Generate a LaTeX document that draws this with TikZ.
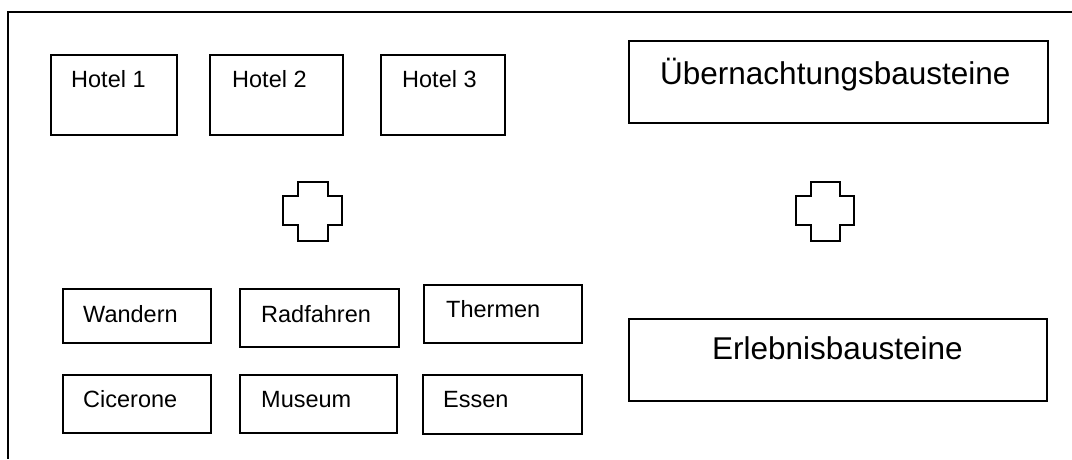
\documentclass[tikz,border=0pt]{standalone}
\usepackage{fontspec}
\setmainfont{Liberation Sans}
\begin{document}
\begin{tikzpicture}[x=1pt,y=-1pt,
  box/.style={draw, line width=1.6pt, inner sep=0pt, anchor=north west},
  small/.style={anchor=base west, inner sep=0pt, font=\fontsize{23.5}{28}\selectfont},
  big/.style={anchor=base west, inner sep=0pt, font=\fontsize{31.5}{38}\selectfont},
  plus/.style={draw, line width=1.6pt, line join=miter}]
\useasboundingbox (0,0) rectangle (1072,459);
% outer frame (top and left)
\draw[line width=1.6pt] (1072,12) -- (8,12) -- (8,459);
% hotels
\node[box, minimum width=126pt, minimum height=80pt] (h1) at (50,54) {};
\node[box, minimum width=133pt, minimum height=80pt] (h2) at (209,54) {};
\node[box, minimum width=124pt, minimum height=80pt] (h3) at (380,54) {};
\node[small] (h1t) at (71,87) {Hotel 1};
\node[small] (h2t) at (232,87) {Hotel 2};
\node[small] (h3t) at (402,87) {Hotel 3};
% overview boxes
\node[box, minimum width=419pt, minimum height=82pt] (ueb) at (628,40) {};
\node[big] (uebt) at (660,84) {Übernachtungsbausteine};
\node[box, minimum width=418pt, minimum height=82pt] (erl) at (628,318) {};
\node[big] (erlt) at (712,359) {Erlebnisbausteine};
% activities
\node[box, minimum width=148pt, minimum height=54pt] (wan) at (62,288) {};
\node[box, minimum width=159pt, minimum height=58pt] (rad) at (239,288) {};
\node[box, minimum width=158pt, minimum height=58pt] (the) at (423,284) {};
\node[box, minimum width=148pt, minimum height=58pt] (cic) at (62,374) {};
\node[box, minimum width=157pt, minimum height=58pt] (mus) at (239,374) {};
\node[box, minimum width=159pt, minimum height=59pt] (ess) at (422,374) {};
\node[small] (want) at (83,322) {Wandern};
\node[small] (radt) at (261,322) {Radfahren};
\node[small] (thet) at (446,317) {Thermen};
\node[small] (cict) at (83,407) {Cicerone};
\node[small] (must) at (261,407) {Museum};
\node[small] (esst) at (443,407) {Essen};
% plus shapes
\draw[plus] (298,182) -- (328,182) -- (328,196) -- (342,196) -- (342,225) -- (328,225) -- (328,241) -- (298,241) -- (298,225) -- (283,225) -- (283,196) -- (298,196) -- cycle;
\draw[plus] (811,182) -- (840,182) -- (840,196) -- (854,196) -- (854,225) -- (840,225) -- (840,241) -- (811,241) -- (811,225) -- (796,225) -- (796,196) -- (811,196) -- cycle;
\end{tikzpicture}
\end{document}
